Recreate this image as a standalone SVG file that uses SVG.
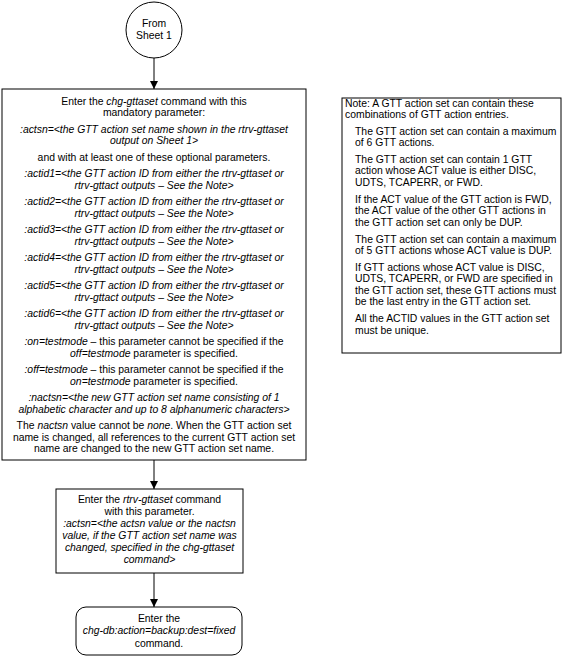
<svg xmlns="http://www.w3.org/2000/svg" width="565" height="657" viewBox="0 0 565 657">
<style>
text{font-family:"Liberation Sans",Arial,sans-serif;font-size:10.4px;fill:#000}
.c{text-anchor:middle}
.i{font-style:italic}
.box{fill:#fff;stroke:#000;stroke-width:1}
.ln{stroke:#000;stroke-width:1;fill:none}
</style>
<defs>
<marker id="ah" viewBox="0 0 10 10" refX="10" refY="5" markerWidth="8" markerHeight="8" markerUnits="userSpaceOnUse" orient="auto">
<path d="M0,0 L10,5 L0,10 z" fill="#000"/>
</marker>
</defs>
<rect width="565" height="657" fill="#fff"/>
<g id="connectors">
<line class="ln" x1="154" y1="58" x2="154" y2="89" marker-end="url(#ah)"/>
<line class="ln" x1="154" y1="460" x2="154" y2="489" marker-end="url(#ah)"/>
<line class="ln" x1="154" y1="573" x2="154" y2="607" marker-end="url(#ah)"/>
</g>
<g id="start">
<circle class="box" cx="154" cy="30" r="28"/>
<text class="c" x="154" y="26.5">From</text>
<text class="c" x="154" y="38.5">Sheet 1</text>
</g>
<g id="chg-gttaset">
<rect class="box" x="2" y="89" width="304" height="371"/>
<text class="c" x="154" y="104.5">Enter the <tspan class="i">chg-gttaset</tspan> command with this</text>
<text class="c" x="154" y="116">mandatory parameter:</text>
<text class="c i" x="154" y="132.5">:actsn=&lt;the GTT action set name shown in the rtrv-gttaset</text>
<text class="c i" x="154" y="144">output on Sheet 1&gt;</text>
<text class="c" x="154" y="160.5">and with at least one of these optional parameters.</text>
<text class="c i" x="154" y="177">:actid1=&lt;the GTT action ID from either the rtrv-gttaset or</text>
<text class="c i" x="154" y="188.5">rtrv-gttact outputs – See the Note&gt;</text>
<text class="c i" x="154" y="205">:actid2=&lt;the GTT action ID from either the rtrv-gttaset or</text>
<text class="c i" x="154" y="216.5">rtrv-gttact outputs – See the Note&gt;</text>
<text class="c i" x="154" y="233">:actid3=&lt;the GTT action ID from either the rtrv-gttaset or</text>
<text class="c i" x="154" y="244.5">rtrv-gttact outputs – See the Note&gt;</text>
<text class="c i" x="154" y="261">:actid4=&lt;the GTT action ID from either the rtrv-gttaset or</text>
<text class="c i" x="154" y="272.5">rtrv-gttact outputs – See the Note&gt;</text>
<text class="c i" x="154" y="289">:actid5=&lt;the GTT action ID from either the rtrv-gttaset or</text>
<text class="c i" x="154" y="300.5">rtrv-gttact outputs – See the Note&gt;</text>
<text class="c i" x="154" y="317">:actid6=&lt;the GTT action ID from either the rtrv-gttaset or</text>
<text class="c i" x="154" y="328.5">rtrv-gttact outputs – See the Note&gt;</text>
<text class="c" x="154" y="345"><tspan class="i">:on=testmode</tspan> – this parameter cannot be specified if the</text>
<text class="c" x="154" y="356.5"><tspan class="i">off=testmode</tspan> parameter is specified.</text>
<text class="c" x="154" y="373"><tspan class="i">:off=testmode</tspan> – this parameter cannot be specified if the</text>
<text class="c" x="154" y="384.5"><tspan class="i">on=testmode</tspan> parameter is specified.</text>
<text class="c i" x="154" y="401">:nactsn=&lt;the new GTT action set name consisting of 1</text>
<text class="c i" x="154" y="412.5">alphabetic character and up to 8 alphanumeric characters&gt;</text>
<text class="c" x="154" y="429">The <tspan class="i">nactsn</tspan> value cannot be <tspan class="i">none</tspan>. When the GTT action set</text>
<text class="c" x="154" y="440.5">name is changed, all references to the current GTT action set</text>
<text class="c" x="154" y="452">name are changed to the new GTT action set name.</text>
</g>
<g id="note">
<rect class="box" x="342" y="98" width="219" height="255"/>
<text x="345" y="106.5">Note: A GTT action set can contain these</text>
<text x="345" y="118">combinations of GTT action entries.</text>
<text x="355" y="134.5">The GTT action set can contain a maximum</text>
<text x="355" y="146">of 6 GTT actions.</text>
<text x="355" y="162.5">The GTT action set can contain 1 GTT</text>
<text x="355" y="174">action whose ACT value is either DISC,</text>
<text x="355" y="185.5">UDTS, TCAPERR, or FWD.</text>
<text x="355" y="202.5">If the ACT value of the GTT action is FWD,</text>
<text x="355" y="214">the ACT value of the other GTT actions in</text>
<text x="355" y="225.5">the GTT action set can only be DUP.</text>
<text x="355" y="242.5">The GTT action set can contain a maximum</text>
<text x="355" y="254">of 5 GTT actions whose ACT value is DUP.</text>
<text x="355" y="270.5">If GTT actions whose ACT value is DISC,</text>
<text x="355" y="282">UDTS, TCAPERR, or FWD are specified in</text>
<text x="355" y="293.5">the GTT action set, these GTT actions must</text>
<text x="355" y="305">be the last entry in the GTT action set.</text>
<text x="355" y="322">All the ACTID values in the GTT action set</text>
<text x="355" y="333.5">must be unique.</text>
</g>
<g id="rtrv-gttaset">
<rect class="box" x="56" y="489" width="187" height="84"/>
<text class="c" x="149.5" y="502.5">Enter the <tspan class="i">rtrv-gttaset</tspan> command</text>
<text class="c" x="149.5" y="514.5">with this parameter.</text>
<text class="c i" x="149.5" y="526.5">:actsn=&lt;the actsn value or the nactsn</text>
<text class="c i" x="149.5" y="538.5">value, if the GTT action set name was</text>
<text class="c i" x="149.5" y="550.5">changed, specified in the chg-gttaset</text>
<text class="c i" x="149.5" y="562.5">command&gt;</text>
</g>
<g id="chg-db">
<rect class="box" x="76" y="607" width="166" height="48" rx="10" ry="10"/>
<text class="c" x="159" y="621.5">Enter the</text>
<text class="c i" x="159" y="634">chg-db:action=backup:dest=fixed</text>
<text class="c" x="159" y="646.5">command.</text>
</g>
</svg>
